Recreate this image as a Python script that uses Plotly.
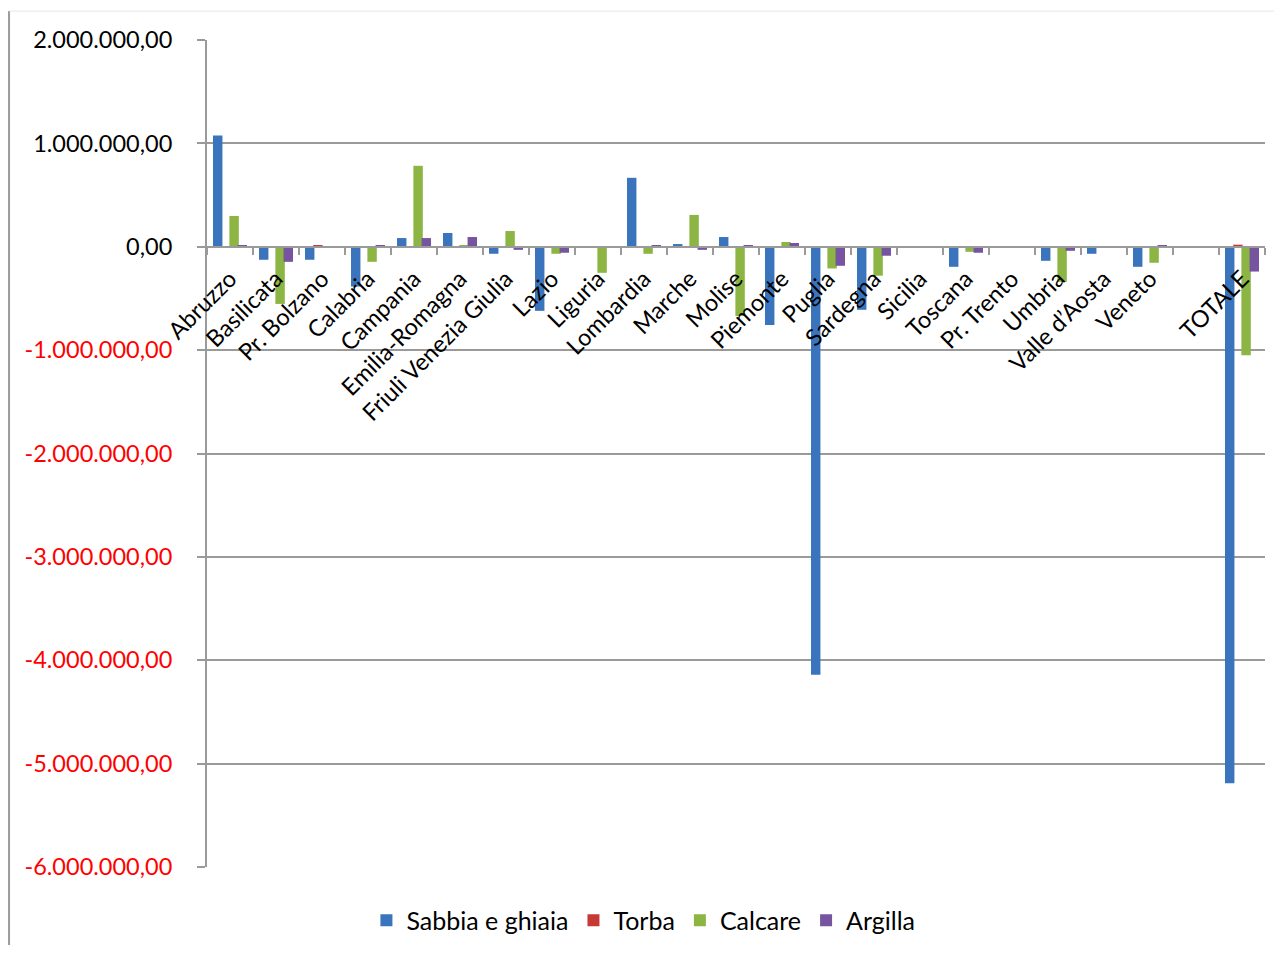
import plotly.graph_objects as go

categories = ["Abruzzo", "Basilicata", "Pr. Bolzano", "Calabria", "Campania",
              "Emilia-Romagna", "Friuli Venezia Giulia", "Lazio", "Liguria",
              "Lombardia", "Marche", "Molise", "Piemonte", "Puglia", "Sardegna",
              "Sicilia", "Toscana", "Pr. Trento", "Umbria", "Valle d\u2019Aosta",
              "Veneto", " ", "TOTALE"]

sabbia = [1075000, -126000, -126000, -385000, 84000, 133000, -68000, -620000, 0,
          667000, 26000, 94000, -757000, -4140000, -610000, 0, -194000, 0,
          -136000, -68000, -194000, 0, -5190000]
torba = [0, 0, 16000, 0, 0, 0, 0, 0, 0, 0, 0, 0, 0, 0, 0, 0, 0, 0, 0, 0, 0, 0, 20000]
calcare = [298000, -553000, 0, -146000, 783000, 16000, 152000, -68000, -252000,
           -68000, 308000, -670000, 46000, -210000, -280000, 0, -49000, 0,
           -340000, 0, -155000, 0, -1050000]
argilla = [16000, -146000, 0, 16000, 84000, 94000, -30000, -58000, 0, 16000,
           -30000, 16000, 36000, -184000, -87000, 0, -58000, 0, -39000, 0,
           16000, 0, -240000]

series_names = ["Sabbia e ghiaia", "Torba", "Calcare", "Argilla"]
series_values = [sabbia, torba, calcare, argilla]
series_colors = ["#3A74BC", "#C63A36", "#8DB544", "#7654A0"]

tick_vals = [2000000, 1000000, 0, -1000000, -2000000, -3000000, -4000000, -5000000, -6000000]
tick_text = ["2.000.000,00", "1.000.000,00", "0,00",
             "<span style='color:#FF0000'>-1.000.000,00</span>",
             "<span style='color:#FF0000'>-2.000.000,00</span>",
             "<span style='color:#FF0000'>-3.000.000,00</span>",
             "<span style='color:#FF0000'>-4.000.000,00</span>",
             "<span style='color:#FF0000'>-5.000.000,00</span>",
             "<span style='color:#FF0000'>-6.000.000,00</span>"]

FONT = "Lato, 'Open Sans', sans-serif"
bar_width = 0.205
centers = [-0.267, -0.089, 0.089, 0.267]

fig = go.Figure()
for name, vals, col, c in zip(series_names, series_values, series_colors, centers):
    fig.add_trace(go.Bar(
        x=categories, y=vals, name=name,
        marker=dict(color=col, line=dict(width=0)),
        width=bar_width, offset=c - bar_width / 2,
    ))

y_min, y_max = -6000000, 2000000
zero_pos = (0 - y_min) / (y_max - y_min)

fig.update_layout(
    width=1266, height=937,
    margin=dict(l=199, r=9, t=32, b=78, autoexpand=False),
    paper_bgcolor="white", plot_bgcolor="white",
    font=dict(family=FONT, size=23.5, color="black"),
    barmode="overlay",
    showlegend=True,
    legend=dict(orientation="h", x=0.4125, xanchor="center", y=-0.037, yanchor="top",
                font=dict(size=25, family=FONT), itemwidth=30, traceorder="normal"),
    xaxis=dict(
        type="category", anchor="free", position=zero_pos,
        showline=True, linecolor="#9A9A9A", linewidth=2,
        ticks="outside", tickson="boundaries", ticklen=7, tickwidth=2, tickcolor="#9A9A9A",
        tickangle=-45, tickfont=dict(size=23.5, family=FONT, color="black"),
        ticklabelstandoff=8, automargin=False,
        showgrid=False, zeroline=False, range=[-0.5, len(categories) - 0.5],
    ),
    yaxis=dict(
        range=[y_min, y_max], tickvals=tick_vals, ticktext=tick_text,
        showgrid=True, gridcolor="#9A9A9A", gridwidth=2,
        showline=True, linecolor="#9A9A9A", linewidth=2,
        ticks="outside", ticklen=8, tickwidth=2, tickcolor="#9A9A9A",
        ticklabelstandoff=20, automargin=False,
        tickfont=dict(size=23.5, family=FONT, color="black"),
        zeroline=False,
    ),
)

# chart-area frame (Excel style)
fig.add_shape(type="line", xref="paper", yref="paper",
              x0=-0.1871, x1=-0.1871, y0=-0.15, y1=1.035,
              line=dict(color="#9A9A9A", width=2))
fig.add_shape(type="line", xref="paper", yref="paper",
              x0=-0.1871, x1=1.02, y0=1.035, y1=1.035,
              line=dict(color="#E6E6E6", width=1))

fig.write_html("out.html")
